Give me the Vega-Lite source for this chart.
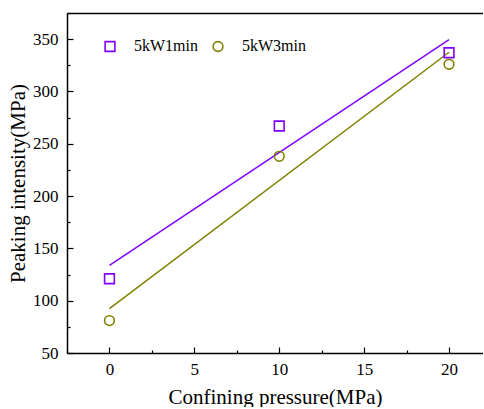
{
  "$schema": "https://vega.github.io/schema/vega-lite/v6.json",
  "width": 416,
  "height": 340,
  "padding": {"left": 7, "top": 12, "right": 0, "bottom": 0},
  "autosize": {"type": "pad"},
  "background": "white",
  "config": {
    "view": {"stroke": null},
    "font": "Liberation Serif",
    "style": {"guide-label": {"font": "Liberation Serif"}, "guide-title": {"font": "Liberation Serif"}},
    "axis": {"grid": false, "domainColor": "black", "tickColor": "black", "labelColor": "black", "titleColor": "black", "labelFont": "Liberation Serif", "titleFont": "Liberation Serif", "labelFontSize": 17, "domainWidth": 1.5, "tickWidth": 1.2},
    "legend": {"labelFont": "Liberation Serif", "labelFontSize": 16, "symbolSize": 95, "symbolStrokeWidth": 1.6, "labelOffset": 16, "columnPadding": 11, "padding": 0, "orient": "none", "legendX": 35, "legendY": 25, "direction": "horizontal", "title": null}
  },
  "data": {
    "values": [
      {"pressure": 0, "strength": 121, "series": "5kW1min"},
      {"pressure": 10, "strength": 267, "series": "5kW1min"},
      {"pressure": 20, "strength": 337, "series": "5kW1min"},
      {"pressure": 0, "strength": 81, "series": "5kW3min"},
      {"pressure": 10, "strength": 238, "series": "5kW3min"},
      {"pressure": 20, "strength": 326, "series": "5kW3min"}
    ]
  },
  "resolve": {"axis": {"x": "independent", "y": "independent"}},
  "layer": [
    {
      "transform": [{"regression": "strength", "on": "pressure", "groupby": ["series"], "extent": [0, 20]}],
      "mark": {"type": "line", "strokeWidth": 1.5, "clip": true},
      "encoding": {
        "x": {"field": "pressure", "type": "quantitative", "scale": {"domain": [-2.5, 22], "nice": false, "zero": false},
          "axis": {"orient": "bottom", "values": [-2.5, 2.5, 7.5, 12.5, 17.5], "labels": false, "domain": false, "title": null, "tickSize": -3}},
        "y": {"field": "strength", "type": "quantitative", "scale": {"domain": [50, 375], "nice": false, "zero": false},
          "axis": {"orient": "left", "values": [75, 125, 175, 225, 275, 325, 375], "labels": false, "domain": false, "title": null, "tickSize": -3}},
        "color": {"field": "series", "type": "nominal", "scale": {"domain": ["5kW1min", "5kW3min"], "range": ["#8000ff", "#808000"]}}
      }
    },
    {
      "mark": {"type": "point", "filled": false, "strokeWidth": 1.6, "opacity": 1, "size": 95},
      "encoding": {
        "x": {"field": "pressure", "type": "quantitative",
          "axis": {"orient": "bottom", "values": [0, 5, 10, 15, 20], "tickSize": -6, "labelFont": "Liberation Serif", "labelFontSize": 17, "labelPadding": 14, "title": "Confining pressure(MPa)", "titleFont": "Liberation Serif", "titleFontSize": 21, "titleFontWeight": "normal", "titlePadding": 9}},
        "y": {"field": "strength", "type": "quantitative",
          "axis": {"orient": "left", "values": [50, 100, 150, 200, 250, 300, 350], "tickSize": -6, "labelFont": "Liberation Serif", "labelFontSize": 17, "labelPadding": 15, "title": "Peaking intensity(MPa)", "titleFont": "Liberation Serif", "titleFontSize": 21, "titleFontWeight": "normal", "titlePadding": 4}},
        "color": {"field": "series", "type": "nominal"},
        "shape": {"field": "series", "type": "nominal", "scale": {"domain": ["5kW1min", "5kW3min"], "range": ["square", "circle"]}}
      }
    },
    {
      "mark": {"type": "point", "opacity": 0},
      "encoding": {
        "x": {"field": "pressure", "type": "quantitative", "axis": {"orient": "top", "labels": false, "ticks": false, "title": null, "grid": false}},
        "y": {"field": "strength", "type": "quantitative", "axis": null}
      }
    }
  ]
}
